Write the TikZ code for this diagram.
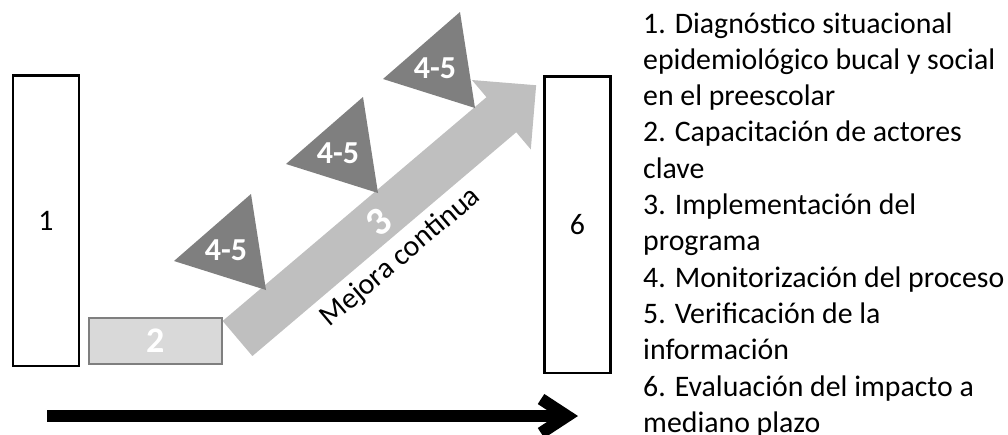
\documentclass[tikz,border=0pt]{standalone}
\usepackage{fontspec}
\setmainfont{Carlito}
\usetikzlibrary{arrows.meta}
\definecolor{stepfill}{HTML}{D9D9D9}
\definecolor{arrowfill}{HTML}{BFBFBF}
\definecolor{checkfill}{HTML}{7F7F7F}
\tikzset{
    stagebox/.style={
        draw,
        line width=2.5pt,
        fill=white,
        inner sep=0pt,
        font=\fontsize{29.8}{36}\selectfont,
    },
    trainbox/.style={
        draw=checkfill,
        line width=2.5pt,
        fill=stepfill,
        inner sep=0pt,
        text=white,
        font=\fontsize{36}{40}\selectfont\bfseries,
    },
    checklabel/.style={
        text=white,
        inner sep=0pt,
        font=\fontsize{32}{36}\selectfont\bfseries,
    },
    legendline/.style={
        anchor=base west,
        inner sep=0pt,
        font=\fontsize{29.8}{36.3}\selectfont,
    },
    timeline/.style={
        line width=12pt,
        -{Straight Barb[length=26pt, width=34pt]},
    },
}

\begin{document}
\begin{tikzpicture}[x=1pt, y=-1pt]
    \useasboundingbox (0,0) rectangle (1008,434);

    % Stages 1 and 6
    \node[stagebox, minimum width=66pt, minimum height=290.5pt] (stage1) at (46,220.75) {1};
    \node[stagebox, minimum width=66pt, minimum height=296.5pt] (stage6) at (577.5,224.75) {6};

    % Stage 2
    \node[trainbox, minimum width=133pt, minimum height=46pt] (stage2) at (155.3,341) {2};

    % Big arrow, stage 3
    \begin{scope}[shift={(237.5,338.5)}, rotate=40.3]
      \fill[arrowfill]
        (0,-23) -- (346,-23) -- (346,-45.5) -- (391.6,0) -- (346,45.5) -- (346,23) -- (0,23) -- cycle;
      \node[rotate=40.3, text=white, inner sep=0pt, font=\fontsize{40}{44}\selectfont\bfseries]
        (stage3) at (183.5,2.6) {3};
      \node[rotate=40.3, anchor=base, inner sep=0pt, font=\fontsize{29.8}{36}\selectfont]
        (mejora) at (177,51.5) {Mejora continua};
    \end{scope}

    % Checks 4-5
    \foreach \tx/\ty [count=\i] in {251/194, 363/97, 460/12} {
      \fill[checkfill] (\tx,\ty) -- ++(-77,67) -- ++(92,29) -- cycle;
      \node[checklabel] (check\i) at (\tx-25,\ty+56) {4-5};
    }

    % Time arrow
    \coordinate (timestart) at (47,416);
    \coordinate (timeend) at (578,416);
    \draw[timeline] (timestart) -- (timeend);

    % Legend
    \foreach \line [count=\i from 0] in {%
        1. Diagnóstico situacional,
        epidemiológico bucal y social,
        en el preescolar,
        2. Capacitación de actores,
        clave,
        3. Implementación del,
        programa,
        4. Monitorización del proceso,
        5. Verificación de la,
        información,
        6. Evaluación del impacto a,
        mediano plazo} {
      \node[legendline] (legend\i) at (643,33+36.3*\i) {\line};
    }

  \end{tikzpicture}
\end{document}
